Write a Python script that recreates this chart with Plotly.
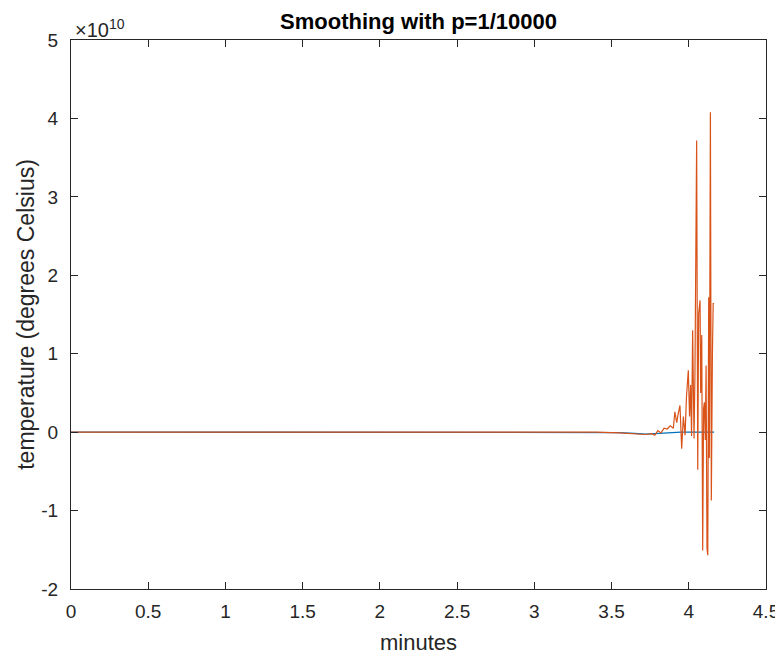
import plotly.graph_objects as go

# Data (temperature values in units of 1e10 degrees Celsius)
blue_t = [0, 3.40, 3.55, 3.65, 3.72, 3.78, 3.85, 3.95, 4.164]
blue_v = [0, 0, -0.005, -0.015, -0.025, -0.02, -0.01, 0, 0]

orange_t = [0, 3.40, 3.55, 3.65, 3.72, 3.76, 3.78, 3.80, 3.82, 3.84, 3.86, 3.88,
            3.90, 3.91, 3.922, 3.93, 3.943, 3.954, 3.965, 3.976, 3.985, 3.997,
            4.005, 4.012, 4.018, 4.025, 4.034, 4.040, 4.051, 4.058, 4.064, 4.073,
            4.077, 4.084, 4.090, 4.096, 4.101, 4.107, 4.112, 4.118, 4.123, 4.129,
            4.133, 4.140, 4.146, 4.153, 4.158, 4.164]
orange_v = [0, 0, -0.01, -0.02, -0.03, -0.02, -0.04, 0.02, -0.01, 0.05, 0.04, 0.08,
            0.05, 0.26, 0.12, 0.22, 0.34, -0.21, 0.20, -0.04, 0.45, 0.79,
            0.20, 0.60, -0.05, 1.30, -0.08, 0.75, 3.72, -0.48, 1.51, 1.68,
            0.50, 1.24, -1.51, 0.30, 0.38, -0.10, 0.85, -1.48, -1.57, 1.72,
            -0.33, 4.08, -0.87, 1.00, 1.64, 1.64]

scale = 1e10
y_ticks = [-2, -1, 0, 1, 2, 3, 4, 5]
x_ticks = [0, 0.5, 1, 1.5, 2, 2.5, 3, 3.5, 4, 4.5]
x_labels = ["0", "0.5", "1", "1.5", "2", "2.5", "3", "3.5", "4", "4.5"]

fig = go.Figure()
fig.add_trace(go.Scatter(x=blue_t, y=[v * scale for v in blue_v], mode="lines",
                         line=dict(color="#0072BD", width=1.3), showlegend=False))
fig.add_trace(go.Scatter(x=orange_t, y=[v * scale for v in orange_v], mode="lines",
                         line=dict(color="#D95319", width=1.2), showlegend=False))

font = "Liberation Sans, Arial, Helvetica, sans-serif"
axis_common = dict(showline=True, mirror="ticks", linecolor="#262626", linewidth=1,
                   ticks="inside", ticklen=7, tickcolor="#262626", showgrid=False,
                   zeroline=False, automargin=False,
                   tickfont=dict(family=font, size=19, color="#262626"))

W, H = 775, 647
L, R, T, B = 63, 17, 32, 66

fig.update_layout(
    width=W, height=H,
    margin=dict(l=L, r=R, t=T, b=B),
    paper_bgcolor="white", plot_bgcolor="white",
    title=dict(text="<b>Smoothing with p=1/10000</b>", x=(L + W - R) / 2 / W, xanchor="center",
               y=1 - 13 / H, yanchor="middle", font=dict(family=font, size=22, color="black")),
    xaxis=dict(range=[0, 4.5], tickvals=x_ticks, ticktext=x_labels, ticklabelstandoff=5,
               title=dict(text="minutes", font=dict(family=font, size=22, color="#262626"), standoff=14),
               **axis_common),
    yaxis=dict(range=[-2 * scale, 5 * scale], tickvals=[v * scale for v in y_ticks],
               ticktext=[str(v) for v in y_ticks], ticklabelstandoff=8,
               title=dict(text="temperature (degrees Celsius)", font=dict(family=font, size=23, color="#262626"), standoff=0),
               **axis_common),
    annotations=[dict(text="×10<sup>10</sup>", xref="paper", yref="paper", x=0, y=1,
                      xanchor="left", yanchor="bottom", showarrow=False, xshift=2, yshift=-3,
                      font=dict(family=font, size=20, color="#262626"))],
)

fig.write_html("out.html")
